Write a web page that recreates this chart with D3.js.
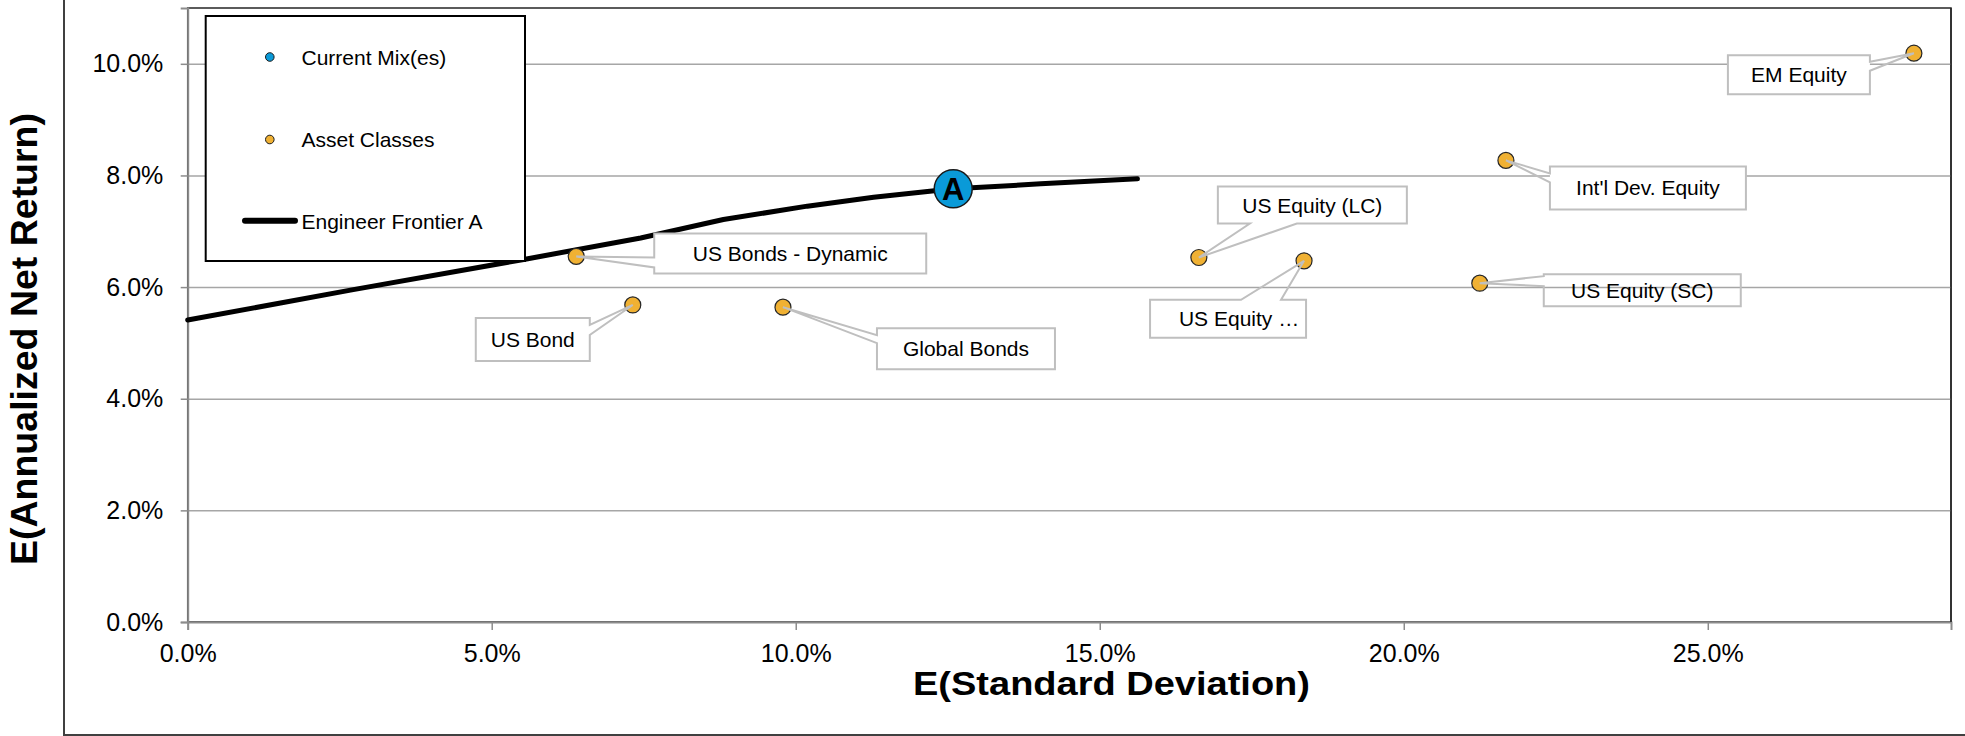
<!DOCTYPE html>
<html>
<head>
<meta charset="utf-8">
<script src="https://cdn.jsdelivr.net/npm/d3@7"></script>
<style>
  html, body { margin: 0; padding: 0; background: #fff; }
  svg { display: block; font-family: "Liberation Sans", Arial, sans-serif; }
</style>
</head>
<body>
<svg id="chart" width="1965" height="736"></svg>
<script>
// ---------------- DATA ----------------
const assetNames  = ["EM Equity", "Int'l Dev. Equity", "US Equity (LC)", "US Equity \u2026", "US Equity (SC)", "US Bonds - Dynamic", "US Bond", "Global Bonds"];
const assetRisk   = [0.2839, 0.2168, 0.1663, 0.1836, 0.2125, 0.0639, 0.0732, 0.0979];
const assetReturn = [0.1019, 0.0827, 0.0653, 0.0647, 0.0607, 0.0655, 0.0568, 0.0564];

const mixNames  = ["A"];
const mixRisk   = [0.1259];
const mixReturn = [0.0776];

const frontierRisk   = [0.0000, 0.0270, 0.0555, 0.0745, 0.0881, 0.1019, 0.1128, 0.1259, 0.1403, 0.1562];
const frontierReturn = [0.0541, 0.0595, 0.0650, 0.0688, 0.0721, 0.0745, 0.0761, 0.0776, 0.0785, 0.0794];

const xTicks = [0, 0.05, 0.10, 0.15, 0.20, 0.25];
const yTicks = [0, 0.02, 0.04, 0.06, 0.08, 0.10];

const legendItems = ["Current Mix(es)", "Asset Classes", "Engineer Frontier A"];
const xTitle = "E(Standard Deviation)";
const yTitle = "E(Annualized Net Return)";

// ---------------- LAYOUT (callout boxes relative to their point, px) ----------------
const labelLayout = {
  "EM Equity":          {dx: -186, dy: 2,   w: 142, h: 39, side: "right",  a: [6.5, 15.5], fill: "#fff"},
  "Int'l Dev. Equity":  {dx: 44,   dy: 6,   w: 196, h: 43, side: "left",   a: [7, 16],     fill: "#fff"},
  "US Equity (LC)":     {dx: 19,   dy: -71, w: 189, h: 37, side: "bottom", a: [32, 79],    fill: "#fff"},
  "US Equity \u2026":   {dx: -154, dy: 39,  w: 156, h: 38, side: "top",    a: [91, 131],   fill: "#fff", tdx: 11},
  "US Equity (SC)":     {dx: 64,   dy: -9,  w: 197, h: 32, side: "left",   a: [2, 12],     fill: "none"},
  "US Bonds - Dynamic": {dx: 78,   dy: -23, w: 272, h: 40, side: "left",   a: [24, 34],    fill: "#fff"},
  "US Bond":            {dx: -157, dy: 13,  w: 114, h: 43, side: "right",  a: [7, 17],     fill: "#fff"},
  "Global Bonds":       {dx: 94,   dy: 21,  w: 178, h: 41, side: "left",   a: [7, 15],     fill: "#fff"}
};

// ---------------- CHART ----------------
const svg = d3.select("#chart");
const plot = {left: 187.7, right: 1951, top: 8, bottom: 622};

const x = d3.scaleLinear().domain([0, 0.29]).range([plot.left, plot.right]);
const y = d3.scaleLinear().domain([0, 0.11]).range([plot.bottom, plot.top]);

const ORANGE = "#F0B133", BLUE = "#0A9AD8", GRID = "#A6A6A6", AXIS = "#8C8C8C", CALLOUT = "#BFBFBF";

// outer chart frame
svg.append("rect").attr("x", 64).attr("y", -10).attr("width", 2000).attr("height", 745)
  .attr("fill", "#fff").attr("stroke", "#404040").attr("stroke-width", 2);

// plot area border
svg.append("rect").attr("x", plot.left).attr("y", plot.top)
  .attr("width", plot.right - plot.left).attr("height", plot.bottom - plot.top)
  .attr("fill", "#fff").attr("stroke", "#262626").attr("stroke-width", 1.5);

// gridlines
const grid = svg.append("g").attr("transform", `translate(${plot.left},0)`)
  .call(d3.axisLeft(y).tickValues(yTicks.filter(d => d > 0)).tickSize(-(plot.right - plot.left)).tickFormat(""));
grid.select(".domain").remove();
grid.selectAll("line").attr("stroke", GRID).attr("stroke-width", 1.5);

// y axis
const yAxis = svg.append("g").attr("transform", `translate(${plot.left},0)`)
  .call(d3.axisLeft(y).tickValues(yTicks).tickSize(7).tickPadding(17.4).tickFormat(d3.format(".1%")));
yAxis.select(".domain").attr("stroke", AXIS).attr("stroke-width", 2);
yAxis.selectAll(".tick line").attr("stroke", AXIS).attr("stroke-width", 1.5);
yAxis.selectAll("text").attr("font-size", 25).attr("fill", "#000").attr("font-family", "Liberation Sans, Arial, sans-serif");

// x axis
const xAxis = svg.append("g").attr("transform", `translate(0,${plot.bottom})`)
  .call(d3.axisBottom(x).tickValues(xTicks).tickSize(8).tickPadding(14).tickFormat(d3.format(".1%")));
xAxis.select(".domain").attr("stroke", AXIS).attr("stroke-width", 2);
xAxis.selectAll(".tick line").attr("stroke", AXIS).attr("stroke-width", 1.5);
xAxis.selectAll("text").attr("font-size", 25).attr("fill", "#000").attr("font-family", "Liberation Sans, Arial, sans-serif");

// redraw right border over domain ends
svg.append("line").attr("x1", plot.right).attr("x2", plot.right).attr("y1", plot.top).attr("y2", plot.bottom)
  .attr("stroke", "#262626").attr("stroke-width", 1.5);

// axis titles
svg.append("text").attr("x", 1111.5).attr("y", 695).attr("text-anchor", "middle")
  .attr("font-size", 34).attr("font-weight", "bold").attr("textLength", 397).attr("lengthAdjust", "spacingAndGlyphs")
  .text(xTitle);
svg.append("text").attr("transform", "translate(36.5,339) rotate(-90)").attr("text-anchor", "middle")
  .attr("font-size", 37).attr("font-weight", "bold").attr("textLength", 452).attr("lengthAdjust", "spacingAndGlyphs")
  .text(yTitle);

// frontier line
const frontier = frontierRisk.map((r, i) => [r, frontierReturn[i]]);
svg.append("path").datum(frontier)
  .attr("d", d3.line().x(d => x(d[0])).y(d => y(d[1])))
  .attr("fill", "none").attr("stroke", "#000").attr("stroke-width", 5).attr("stroke-linejoin", "round").attr("stroke-linecap", "round");

// asset points
const assets = assetNames.map((n, i) => ({name: n, r: assetRisk[i], ret: assetReturn[i]}));
svg.append("g").selectAll("circle").data(assets).join("circle")
  .attr("cx", d => x(d.r)).attr("cy", d => y(d.ret)).attr("r", 8)
  .attr("fill", ORANGE).attr("stroke", "#262626").attr("stroke-width", 1.2);

// callouts
function calloutPath(px, py, L) {
  const x0 = px + L.dx, y0 = py + L.dy, x1 = x0 + L.w, y1 = y0 + L.h;
  const p = d3.path();
  const [a1, a2] = L.a;
  p.moveTo(x0, y0);
  if (L.side === "top") { p.lineTo(x0 + a1, y0); p.lineTo(px, py); p.lineTo(x0 + a2, y0); }
  p.lineTo(x1, y0);
  if (L.side === "right") { p.lineTo(x1, y0 + a1); p.lineTo(px, py); p.lineTo(x1, y0 + a2); }
  p.lineTo(x1, y1);
  if (L.side === "bottom") { p.lineTo(x0 + a2, y1); p.lineTo(px, py); p.lineTo(x0 + a1, y1); }
  p.lineTo(x0, y1);
  if (L.side === "left") { p.lineTo(x0, y0 + a2); p.lineTo(px, py); p.lineTo(x0, y0 + a1); }
  p.closePath();
  return p.toString();
}
const callouts = svg.append("g").selectAll("g").data(assets).join("g");
callouts.append("rect")
  .attr("x", d => x(d.r) + labelLayout[d.name].dx).attr("y", d => y(d.ret) + labelLayout[d.name].dy)
  .attr("width", d => labelLayout[d.name].w).attr("height", d => labelLayout[d.name].h)
  .attr("fill", d => labelLayout[d.name].fill).attr("stroke", "none");
callouts.append("path")
  .attr("d", d => calloutPath(x(d.r), y(d.ret), labelLayout[d.name]))
  .attr("fill", "none").attr("stroke", CALLOUT).attr("stroke-width", 2).attr("stroke-linejoin", "miter");
callouts.append("text")
  .attr("x", d => x(d.r) + labelLayout[d.name].dx + labelLayout[d.name].w / 2 + (labelLayout[d.name].tdx || 0))
  .attr("y", d => y(d.ret) + labelLayout[d.name].dy + labelLayout[d.name].h / 2 + 7.5)
  .attr("text-anchor", "middle").attr("font-size", 21).attr("fill", "#000")
  .text(d => d.name);

// current mix marker
const mixes = mixNames.map((n, i) => ({name: n, r: mixRisk[i], ret: mixReturn[i]}));
const mg = svg.append("g").selectAll("g").data(mixes).join("g");
mg.append("circle").attr("cx", d => x(d.r)).attr("cy", d => y(d.ret)).attr("r", 19)
  .attr("fill", BLUE).attr("stroke", "#1a1a1a").attr("stroke-width", 1.5);
mg.append("text").attr("x", d => x(d.r)).attr("y", d => y(d.ret) + 11)
  .attr("text-anchor", "middle").attr("font-size", 31).attr("font-weight", "bold").attr("fill", "#000")
  .text(d => d.name);

// legend
const lg = svg.append("g");
lg.append("rect").attr("x", 205.7).attr("y", 16).attr("width", 525 - 205.7).attr("height", 261 - 16)
  .attr("fill", "#fff").attr("stroke", "#000").attr("stroke-width", 2);
const legendY = [57, 139.5, 220.7];
lg.append("circle").attr("cx", 269.8).attr("cy", legendY[0]).attr("r", 4.3).attr("fill", BLUE).attr("stroke", "#1a1a1a").attr("stroke-width", 1);
lg.append("circle").attr("cx", 269.8).attr("cy", legendY[1]).attr("r", 4.3).attr("fill", ORANGE).attr("stroke", "#1a1a1a").attr("stroke-width", 1);
lg.append("line").attr("x1", 245).attr("x2", 295).attr("y1", legendY[2]).attr("y2", legendY[2])
  .attr("stroke", "#000").attr("stroke-width", 6).attr("stroke-linecap", "round");
lg.selectAll("text").data(legendItems).join("text")
  .attr("x", 301.5).attr("y", (d, i) => legendY[i] + 7.8)
  .attr("font-size", 21).attr("fill", "#000").text(d => d);
</script>
</body>
</html>
